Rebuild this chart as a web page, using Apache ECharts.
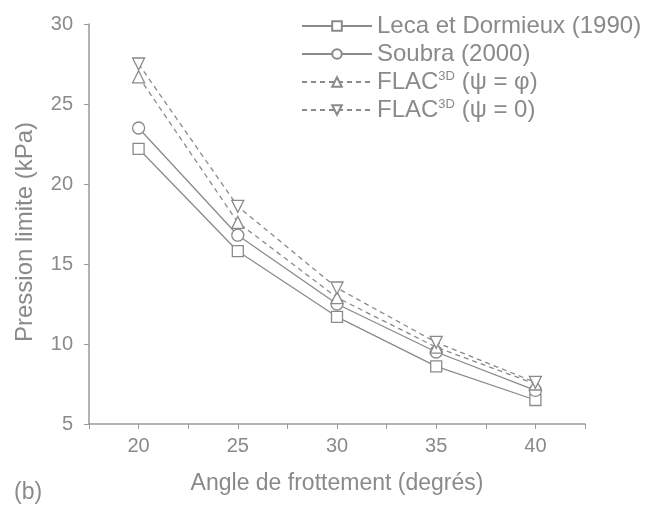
<!DOCTYPE html>
<html>
<head>
<meta charset="utf-8">
<script src="https://cdn.jsdelivr.net/npm/echarts@6/dist/echarts.min.js"></script>
<style>
  html, body { margin: 0; padding: 0; background: #fff; }
  #chart { width: 663px; height: 514px; }
</style>
</head>
<body>
<div id="chart"></div>
<script>
  // angles de frottement (degrés)
  const angles = [20, 25, 30, 35, 40];
  // pression limite (kPa)
  const leca = [22.2, 15.8, 11.7, 8.6, 6.5];
  const soubra = [23.5, 16.8, 12.5, 9.5, 7.1];
  const flacPhi = [26.7, 17.6, 12.9, 9.8, 7.5];
  const flacZero = [27.5, 18.6, 13.5, 10.1, 7.6];

  const seriesNames = ['Leca et Dormieux (1990)', 'Soubra (2000)', 'FLAC3D (ψ = φ)', 'FLAC3D (ψ = 0)'];
  const gray = '#8a8a8a';
  const font = 'Liberation Sans, Arial, sans-serif';

  function pairs(vals) {
    return angles.map(function (a, i) { return [a, vals[i]]; });
  }

  function makeSeries(name, vals, symbol, dashed, rotate) {
    return {
      name: name,
      type: 'line',
      data: pairs(vals),
      symbol: symbol,
      symbolSize: symbol === 'rect' ? 11 : 12,
      symbolRotate: rotate || 0,
      showAllSymbol: true,
      lineStyle: { color: gray, width: 1.3, type: dashed ? [5, 4] : 'solid' },
      itemStyle: { color: '#fff', borderColor: gray, borderWidth: 1.3 },
      emphasis: { disabled: true },
      z: dashed ? 3 : 2
    };
  }

  const myChart = echarts.init(document.getElementById('chart'));
  const option = {
    animation: false,
    backgroundColor: '#fff',
    grid: { left: 89, right: 78, top: 24, bottom: 90 },
    legend: {
      data: seriesNames,
      orient: 'vertical',
      left: 296,
      top: 9,
      itemWidth: 70,
      itemHeight: 12,
      itemGap: 4,
      textStyle: {
        color: gray,
        fontSize: 24,
        lineHeight: 24,
        fontFamily: font,
        rich: {
          sup: { fontSize: 13, lineHeight: 24, color: gray, verticalAlign: 'top', padding: [0, 0, 10, 0] }
        }
      },
      formatter: function (name) { return name.replace('3D', '{sup|3D}'); }
    },
    xAxis: {
      type: 'value',
      min: 17.5,
      max: 42.5,
      interval: 2.5,
      name: 'Angle de frottement (degrés)',
      nameLocation: 'middle',
      nameGap: 48,
      nameTextStyle: { color: gray, fontSize: 23, fontFamily: font },
      splitLine: { show: false },
      axisLine: { lineStyle: { color: '#9a9a9a', width: 1.5 } },
      axisTick: { length: 5, lineStyle: { color: '#9a9a9a' } },
      axisLabel: {
        color: gray,
        fontSize: 20,
        margin: 12,
        fontFamily: font,
        formatter: function (v) { return v % 5 === 0 ? String(v) : ''; }
      }
    },
    yAxis: {
      type: 'value',
      min: 5,
      max: 30,
      interval: 5,
      name: 'Pression limite (kPa)',
      nameLocation: 'middle',
      nameGap: 52,
      nameTextStyle: { color: gray, fontSize: 24, fontFamily: font, padding: [0, 16, 0, 0] },
      splitLine: { show: false },
      axisLine: { show: true, lineStyle: { color: '#9a9a9a', width: 1.5 } },
      axisTick: { show: true, length: 5, lineStyle: { color: '#9a9a9a' } },
      axisLabel: { color: gray, fontSize: 20, margin: 16, fontFamily: font }
    },
    graphic: [
      {
        type: 'text',
        left: 14,
        top: 481,
        style: { text: '(b)', fill: gray, fontSize: 23, fontFamily: font }
      }
    ],
    series: [
      makeSeries(seriesNames[0], leca, 'rect', false),
      makeSeries(seriesNames[1], soubra, 'circle', false),
      makeSeries(seriesNames[2], flacPhi, 'triangle', true),
      makeSeries(seriesNames[3], flacZero, 'triangle', true, 180)
    ]
  };
  myChart.setOption(option);
</script>
</body>
</html>
